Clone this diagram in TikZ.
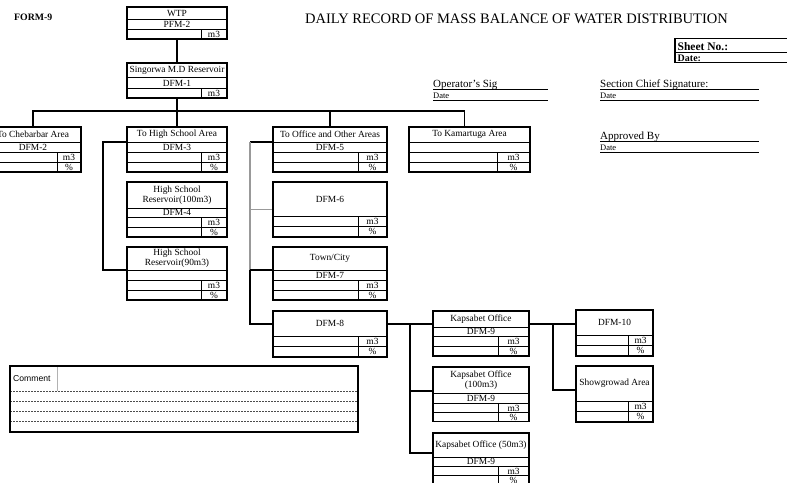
\documentclass[tikz,border=0pt]{standalone}
\usepackage{fontspec}
\setmainfont{Liberation Serif}
\newfontfamily\arialf{Liberation Sans}
\tikzset{
  boxst/.style={draw=black, line width=1.3pt, inner sep=0pt, rectangle},
  rowl/.style={draw=black, line width=0.6pt},
  con/.style={draw=black, line width=1.1pt},
  gcon/.style={draw=gray!80, line width=1.1pt},
  dashl/.style={draw=gray!60!black, line width=0.6pt, dash pattern=on 2pt off 1pt},
  txt/.style={font=\fontsize{9.4}{10}\selectfont, inner sep=0pt, align=center},
  sigtxt/.style={font=\fontsize{11}{12}\selectfont, inner sep=0pt, anchor=base west},
  smalltxt/.style={font=\fontsize{8.5}{9}\selectfont, inner sep=0pt, anchor=base west},
  sheettxt/.style={font=\bfseries\fontsize{11.5}{12}\selectfont, inner sep=0pt, anchor=base west},
}
\newcommand\bx[5]{\node[boxst,fit={(#2,#3) (#4,#5)}] (#1) {};}
\newcommand\hl[3]{\draw[rowl] (#1,#3) -- (#2,#3);}
\newcommand\tx[4]{\node[txt] (#1) at (#2,#3) {#4};}
\newcommand\mrow[5]{\draw[rowl] (#2,#5) -- (#3,#5); \draw[rowl] (#4,#5) -- (#4,#5+10);
  \node[txt] (#1m) at ({(#4+#3)/2},#5+5) {m3};}
\newcommand\prow[5]{\draw[rowl] (#2,#5) -- (#3,#5); \draw[rowl] (#4,#5) -- (#4,#5+10);
  \node[txt] (#1p) at ({(#4+#3)/2},#5+5) {\%};}
\usetikzlibrary{fit}
\begin{document}
\begin{tikzpicture}[x=1pt,y=-1pt]
\useasboundingbox (0,0) rectangle (787,482);
% header
\node[font=\bfseries\fontsize{9.8}{10}\selectfont, anchor=west, inner sep=0pt] (form) at (14,17) {FORM-9};
\node[font=\fontsize{14.5}{16}\selectfont, inner sep=0pt] (title) at (516.5,19) {DAILY RECORD OF MASS BALANCE OF WATER DISTRIBUTION};
% sheet box
\draw[line width=0.6pt] (675,38) -- (790,38);
\draw[line width=1.2pt] (675,52.5) -- (790,52.5);
\draw[line width=0.6pt] (675,62.5) -- (790,62.5);
\draw[line width=1.3pt] (675,38) -- (675,63);
\node[sheettxt] (sheet) at (677.5,50) {Sheet No.:};
\node[sheettxt, font=\bfseries\fontsize{10}{11}\selectfont] (sdate) at (677.5,61) {Date:};
% signatures
\node[sigtxt] (op) at (433,87.5) {Operator's Sig};
\draw[line width=1.2pt] (433,89.5) -- (548,89.5);
\node[smalltxt] (opd) at (433,98.5) {Date};
\draw[line width=0.6pt] (433,100.5) -- (548,100.5);
\node[sigtxt] (sc) at (600,87.5) {Section Chief  Signature:};
\draw[line width=1.2pt] (600,89.5) -- (759,89.5);
\node[smalltxt] (scd) at (600,98.5) {Date};
\draw[line width=0.6pt] (600,100.5) -- (759,100.5);
\node[sigtxt] (ap) at (600,139.5) {Approved By};
\draw[line width=1.2pt] (600,141.5) -- (759,141.5);
\node[smalltxt] (apd) at (600,150) {Date};
\draw[line width=0.6pt] (600,152) -- (759,152);
% WTP
\hl{127}{227}{19}
\tx{t1}{177}{13}{WTP}
\tx{t2}{177}{24}{PFM-2}
\mrow{wtp}{127}{227}{201}{29}
\bx{wtp}{127}{7}{227}{39}
% Singorwa
\hl{127}{227}{77.5}
\tx{t3}{177}{70.5}{Singorwa M.D Reservoir}
\tx{t4}{177}{83}{DFM-1}
\mrow{sing}{127}{227}{201}{88}
\bx{sing}{127}{63}{227}{98}
% Chebarbar
\hl{-15}{81}{142}
\tx{t5}{33}{134.5}{To Chebarbar Area}
\tx{t6}{33}{147}{DFM-2}
\mrow{cheb}{-15}{81}{57}{152}
\prow{cheb}{-15}{81}{57}{162}
\bx{cheb}{-15}{127}{81}{172}
% High school area
\hl{127}{227}{142}
\tx{t7}{177}{134.5}{To High School Area}
\tx{t8}{177}{147}{DFM-3}
\mrow{hs3}{127}{227}{201}{152}
\prow{hs3}{127}{227}{201}{162}
\bx{hs3}{127}{127}{227}{172}
% Office
\hl{273}{387}{142}
\tx{t9}{330}{134.5}{To Office and Other Areas}
\tx{t10}{330}{147}{DFM-5}
\mrow{off5}{273}{387}{358}{152}
\prow{off5}{273}{387}{358}{162}
\bx{off5}{273}{127}{387}{172}
% Kamartuga
\hl{409}{530}{142}
\tx{t11}{469.5}{134.5}{To Kamartuga Area}
\mrow{kam}{409}{530}{497}{152}
\prow{kam}{409}{530}{497}{162}
\bx{kam}{409}{127}{530}{172}
% HS reservoir 100
\hl{127}{227}{208}
\tx{t12}{177}{195}{High School\\Reservoir(100m3)}
\tx{t13}{177}{212.5}{DFM-4}
\mrow{hs4}{127}{227}{201}{217}
\prow{hs4}{127}{227}{201}{227}
\bx{hs4}{127}{182}{227}{237}
% HS reservoir 90
\hl{127}{227}{270}
\tx{t14}{177}{258.5}{High School\\Reservoir(90m3)}
\mrow{hs90}{127}{227}{201}{280}
\prow{hs90}{127}{227}{201}{290}
\bx{hs90}{127}{247}{227}{300}
% DFM-6
\tx{t15}{330}{199}{DFM-6}
\mrow{d6}{273}{387}{358}{216}
\prow{d6}{273}{387}{358}{226.5}
\bx{dfm6}{273}{182}{387}{237}
% Town
\hl{273}{387}{270}
\tx{t16}{330}{258.5}{Town/City}
\tx{t17}{330}{275}{DFM-7}
\mrow{town}{273}{387}{358}{280}
\prow{town}{273}{387}{358}{290}
\bx{town}{273}{247}{387}{300}
% DFM-8
\tx{t18}{330}{323.5}{DFM-8}
\mrow{d8}{273}{387}{358}{336}
\prow{d8}{273}{387}{358}{346.5}
\bx{dfm8}{273}{311}{387}{357}
% Kapsabet office
\hl{433}{529}{327}
\tx{t19}{481}{319}{Kapsabet Office}
\tx{t20}{481}{331.5}{DFM-9}
\mrow{k1}{433}{529}{498}{336}
\prow{k1}{433}{529}{498}{346}
\bx{kap1}{433}{311}{529}{356}
% Kapsabet 100
\hl{433}{529}{393}
\tx{t21}{481}{380}{Kapsabet Office\\(100m3)}
\tx{t22}{481}{398}{DFM-9}
\mrow{k100}{433}{529}{498}{403}
\prow{k100}{433}{529}{498}{412}
\bx{kap100}{433}{367}{529}{421.5}
% Kapsabet 50
\hl{433}{529}{457}
\tx{t23}{481}{445}{Kapsabet Office (50m3)}
\tx{t24}{481}{461.5}{DFM-9}
\mrow{k50}{433}{529}{498}{466}
\prow{k50}{433}{529}{498}{475}
\bx{kap50}{433}{433}{529}{486}
% DFM-10
\tx{t25}{614.5}{322.5}{DFM-10}
\mrow{d10}{576}{653}{628}{335}
\prow{d10}{576}{653}{628}{345.5}
\bx{dfm10}{576}{310}{653}{356}
% Showgrowad
\tx{t26}{614.5}{383.5}{Showgrowad Area}
\mrow{sh}{576}{653}{628}{401}
\prow{sh}{576}{653}{628}{411.5}
\bx{show}{576}{366}{653}{422}
% comment
\draw[draw=gray!60, line width=0.5pt] (57,366) -- (57,391);
\foreach \yy in {391,401,411,421} {\draw[dashl] (10,\yy) -- (358,\yy);}
\node[font=\arialf\fontsize{8.6}{9}\selectfont, anchor=west, inner sep=0pt] (cmtt) at (13,379) {Comment};
\bx{cmt}{10}{366}{358}{432}
% connectors
\draw[con] (wtp.south) -- (sing.north);
\coordinate (bus) at (0,111);
\draw[con] (sing.south) -- (sing.south |- bus);
\draw[con] (cheb.north) -- (cheb.north |- bus) -- ([xshift=-5pt]kam.north |- bus) -- ([xshift=-5pt]kam.north);
\draw[con] (hs3.north) -- (hs3.north |- bus);
\draw[con] (off5.north) -- (off5.north |- bus);
\coordinate (hs3w) at (127,142);
\coordinate (hs90w) at (127,270);
\draw[con] (hs3w) -- ++(-24,0) |- (hs90w);
\coordinate (o5w) at (273,142);
\coordinate (townw) at (273,270);
\coordinate (d8w) at (273,324);
\coordinate (sp) at (250,142);
\draw[con] (o5w) -- (sp);
\draw[gcon] (sp) -- (sp |- townw);
\draw[con] (sp |- townw) |- (d8w);
\draw[con] (sp |- townw) -- (townw);
\draw[gcon] (sp |- dfm6.west) -- (dfm6.west);
\coordinate (d8e) at (387,324);
\coordinate (k1w) at (433,324);
\coordinate (k1e) at (529,324);
\coordinate (d10w) at (576,324);
\coordinate (k100w) at (433,391);
\coordinate (k50w) at (433,453);
\coordinate (showw) at (576,390);
\coordinate (j1) at (410,324);
\coordinate (j2) at (553,324);
\draw[con] (d8e) -- (k1w);
\draw[con] (j1) |- (k50w);
\draw[con] (j1 |- k100w) -- (k100w);
\draw[con] (k1e) -- (d10w);
\draw[con] (j2) |- (showw);
\end{tikzpicture}
\end{document}
